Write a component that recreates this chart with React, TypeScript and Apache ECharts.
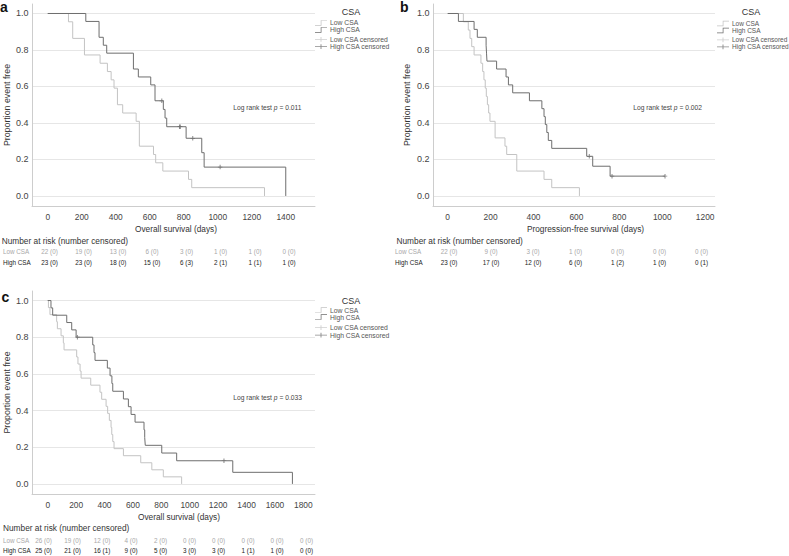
import React, { useEffect, useRef } from "react";
import * as echarts from "echarts";

// ---------- Panel a: overall survival ----------
const aLowCurve = [[0,1],[122,0.9545],[147,0.8636],[216,0.7727],[308,0.7273],[351,0.6818],[373,0.6364],[390,0.5909],[410,0.5],[441,0.4545],[520,0.4091],[539,0.2727],[622,0.2273],[635,0.1818],[677,0.1364],[828,0.0909],[847,0.0455],[1275,0]];
const aHighCurve = [[0,1],[224,0.9565],[302,0.8696],[327,0.8261],[347,0.7826],[504,0.6957],[533,0.6522],[606,0.6087],[631,0.5217],[680,0.4743],[690,0.4269],[700,0.3794],[814,0.3162],[906,0.2371],[920,0.1581],[1400,0]];
const aHighCensor = [[671,0.5217],[775,0.3794],[780,0.3794],[853,0.3162],[1014,0.1581]];
const aTicks = [0,200,400,600,800,1000,1200,1400];
const aLowAtRisk = [22,19,13,6,3,1,1,0];
const aLowCens = [0,0,0,0,0,0,0,0];
const aHighAtRisk = [23,23,18,15,6,2,1,1];
const aHighCens = [0,0,0,0,3,1,1,0];
const aPText = "0.011";

// ---------- Panel b: progression-free survival ----------
const bLowCurve = [[0,1],[73,0.9545],[96,0.9091],[104,0.8636],[112,0.8182],[123,0.7727],[155,0.7273],[163,0.6818],[169,0.6364],[175,0.5909],[180,0.5455],[185,0.5],[191,0.4545],[197,0.4091],[221,0.3182],[267,0.2727],[275,0.2273],[322,0.1364],[449,0.0909],[485,0.0455],[614,0]];
const bHighCurve = [[0,1],[50,0.9565],[123,0.913],[138,0.8696],[179,0.8261],[181,0.7826],[183,0.7391],[228,0.6957],[272,0.6522],[283,0.6087],[303,0.5652],[381,0.5217],[439,0.4783],[449,0.4348],[455,0.3913],[462,0.3478],[469,0.3043],[485,0.2609],[648,0.2174],[676,0.163],[757,0.1087],[1013,0.1087]];
const bHighCensor = [[660,0.2174],[766,0.1087],[1013,0.1087]];
const bTicks = [0,200,400,600,800,1000,1200];
const bLowAtRisk = [22,9,3,1,0,0,0];
const bLowCens = [0,0,0,0,0,0,0];
const bHighAtRisk = [23,17,12,6,1,1,0];
const bHighCens = [0,0,0,0,2,0,1];
const bPText = "0.002";

// ---------- Panel c: overall survival ----------
const cLowCurve = [[0,1],[5,0.9615],[16,0.9231],[63,0.8846],[68,0.8462],[94,0.8077],[110,0.7692],[115,0.7308],[204,0.6923],[213,0.6538],[228,0.6154],[235,0.5769],[303,0.5385],[368,0.5],[380,0.4615],[411,0.4231],[422,0.3846],[434,0.3462],[446,0.3077],[451,0.2692],[458,0.2308],[467,0.1923],[533,0.1538],[655,0.1154],[733,0.0769],[814,0.0385],[943,0]];
const cHighCurve = [[0,1],[23,0.96],[35,0.92],[134,0.88],[169,0.84],[200,0.8],[317,0.7579],[326,0.7158],[333,0.6737],[420,0.6316],[439,0.5895],[452,0.5474],[458,0.5053],[533,0.4632],[568,0.4211],[587,0.3789],[615,0.3368],[678,0.2947],[683,0.2526],[687,0.2105],[803,0.1684],[908,0.1263],[1303,0.0632],[1723,0]];
const cHighCensor = [[209,0.8],[1241,0.1263]];
const cTicks = [0,200,400,600,800,1000,1200,1400,1600,1800];
const cLowAtRisk = [26,19,12,4,2,0,0,0,0,0];
const cLowCens = [0,0,0,0,0,0,0,0,0,0];
const cHighAtRisk = [25,21,16,9,5,3,3,1,1,0];
const cHighCens = [0,0,1,0,0,0,0,1,0,0];
const cPText = "0.033";

const yTicks = [0, 0.2, 0.4, 0.6, 0.8, 1.0];
const groupNames = ["Low CSA", "High CSA"];
const censorNames = ["Low CSA censored", "High CSA censored"];

const FONT = "'Liberation Sans', Arial, Helvetica, sans-serif";
const LOW_COLOR = "#c3c3c3";
const HIGH_COLOR = "#6e6e6e";
const LOW_TEXT = "#a8a8a8";
const HIGH_TEXT = "#222222";
const STEP_ICON = "path://M0,5.2H6.2V0H13V0.8H7V6H0Z";
const PLUS_ICON = "path://M0,2.6H13V3.4H0Z M6,0.4H7V5.6H6Z";
const CENSOR_SYMBOL = "path://M4,0H6V10H4Z M0.5,4.2H9.5V5.8H0.5Z";

type Panel = {
  grid: { left: number; top: number; width: number; height: number };
  xMin: number; xMax: number; ticks: number[];
  xName: string; xNameShift: number; xNameGap: number; yNameGap: number;
  low: number[][]; high: number[][]; highCensor: number[][];
  table: { top: number; height: number; xMin: number; xMax: number; labelMargin: number };
  lowAtRisk: number[]; lowCens: number[]; highAtRisk: number[]; highCens: number[];
};

const panels: Panel[] = [
  {
    grid: { left: 32, top: 4, width: 283, height: 202 },
    xMin: -92.4, xMax: 1572, ticks: aTicks,
    xName: "Overall survival (days)", xNameShift: 2.5, xNameGap: 18.5, yNameGap: 20.5,
    low: aLowCurve, high: aHighCurve, highCensor: aHighCensor,
    table: { top: 246, height: 22, xMin: -89.9, xMax: 1550.7, labelMargin: 31 },
    lowAtRisk: aLowAtRisk, lowCens: aLowCens, highAtRisk: aHighAtRisk, highCens: aHighCens,
  },
  {
    grid: { left: 433, top: 4, width: 282, height: 202 },
    xMin: -68.5, xMax: 1246, ticks: bTicks,
    xName: "Progression-free survival (days)", xNameShift: 11.5, xNameGap: 18.5, yNameGap: 21.5,
    low: bLowCurve, high: bHighCurve, highCensor: bHighCensor,
    table: { top: 246, height: 22, xMin: -76, xMax: 1263, labelMargin: 38 },
    lowAtRisk: bLowAtRisk, lowCens: bLowCens, highAtRisk: bHighAtRisk, highCens: bHighCens,
  },
  {
    grid: { left: 32, top: 291, width: 283, height: 203 },
    xMin: -110.6, xMax: 1882, ticks: cTicks,
    xName: "Overall survival (days)", xNameShift: 5.5, xNameGap: 19, yNameGap: 20.5,
    low: cLowCurve, high: cHighCurve, highCensor: cHighCensor,
    table: { top: 535.5, height: 20, xMin: -75.2, xMax: 1859.8, labelMargin: 29.5 },
    lowAtRisk: cLowAtRisk, lowCens: cLowCens, highAtRisk: cHighAtRisk, highCens: cHighCens,
  },
];

function buildOption() {
  const grids: any[] = [];
  const xAxes: any[] = [];
  const yAxes: any[] = [];
  const series: any[] = [];

  panels.forEach((p) => {
    grids.push({ ...p.grid, containLabel: false });
  });
  panels.forEach((p) => {
    grids.push({ left: p.grid.left, width: p.grid.width, top: p.table.top, height: p.table.height, containLabel: false });
  });

  panels.forEach((p, i) => {
    xAxes.push({
      type: "value", gridIndex: i, min: p.xMin, max: p.xMax,
      axisLine: { show: true, onZero: false, lineStyle: { color: "#cdcdcd", width: 1 } },
      axisTick: { show: false, customValues: p.ticks },
      splitLine: { show: false },
      axisLabel: { customValues: p.ticks, formatter: (v: number) => String(v), color: "#444", fontSize: 8.4, margin: 6.5, fontFamily: FONT },
      name: p.xName, nameLocation: "middle", nameGap: p.xNameGap,
      nameTextStyle: { color: "#333", fontSize: 8.3, fontFamily: FONT, padding: [0, 0, 0, p.xNameShift * 2] },
    });
    yAxes.push({
      type: "value", gridIndex: i, min: -0.055, max: 1.052,
      axisLine: { show: true, onZero: false, lineStyle: { color: "#cdcdcd", width: 1 } },
      axisTick: { show: false, customValues: yTicks },
      axisLabel: { customValues: yTicks, formatter: (v: number) => v.toFixed(1), color: "#444", fontSize: 9, margin: 3.5, fontFamily: FONT },
      splitLine: { show: true, lineStyle: { color: "#e6e6e6", width: 1 } },
      name: "Proportion event free", nameLocation: "middle", nameGap: p.yNameGap, nameRotate: 90,
      nameTextStyle: { color: "#333", fontSize: 8.8, fontFamily: FONT },
    });
  });
  panels.forEach((p, i) => {
    xAxes.push({ type: "value", gridIndex: 3 + i, min: p.table.xMin, max: p.table.xMax, show: false });
    yAxes.push({
      type: "category", gridIndex: 3 + i, data: groupNames, inverse: true,
      axisLine: { show: false }, axisTick: { show: false }, splitLine: { show: false },
      axisLabel: {
        show: true, align: "left", margin: p.table.labelMargin, fontSize: 6.3, fontFamily: FONT,
        color: (v: string) => (v === "Low CSA" ? LOW_TEXT : HIGH_TEXT),
      },
    });
  });

  panels.forEach((p, i) => {
    series.push({
      type: "line", name: "Low CSA", xAxisIndex: i, yAxisIndex: i, data: p.low, step: "end",
      symbol: "none", showSymbol: false, silent: true,
      lineStyle: { color: LOW_COLOR, width: 1 }, itemStyle: { color: LOW_COLOR }, z: 2,
    });
    series.push({
      type: "line", name: "High CSA", xAxisIndex: i, yAxisIndex: i, data: p.high, step: "end",
      symbol: "none", showSymbol: false, silent: true,
      lineStyle: { color: HIGH_COLOR, width: 1 }, itemStyle: { color: HIGH_COLOR }, z: 3,
    });
    series.push({
      type: "scatter", name: "Low CSA censored", xAxisIndex: i, yAxisIndex: i, data: [],
      symbol: CENSOR_SYMBOL, symbolSize: 5, itemStyle: { color: LOW_COLOR }, silent: true,
    });
    series.push({
      type: "scatter", name: "High CSA censored", xAxisIndex: i, yAxisIndex: i, data: p.highCensor,
      symbol: CENSOR_SYMBOL, symbolSize: 4.5, itemStyle: { color: HIGH_COLOR }, silent: true, z: 4,
    });
    const rows = [
      { idx: 0, atRisk: p.lowAtRisk, cens: p.lowCens, color: LOW_TEXT },
      { idx: 1, atRisk: p.highAtRisk, cens: p.highCens, color: HIGH_TEXT },
    ];
    rows.forEach((r) => {
      const texts = p.ticks.map((_, k) => `${r.atRisk[k]} (${r.cens[k]})`);
      series.push({
        type: "custom", xAxisIndex: 3 + i, yAxisIndex: 3 + i, silent: true,
        data: p.ticks.map((t) => [t, r.idx]),
        encode: { x: 0, y: 1 },
        renderItem: (params: any, api: any) => {
          const pt = api.coord([api.value(0), api.value(1)]);
          return {
            type: "text", x: Math.round(pt[0] * 2) / 2, y: pt[1],
            style: {
              text: texts[params.dataIndex], fill: r.color,
              font: `6.3px ${FONT}`, align: "center", verticalAlign: "middle",
              textAlign: "center", textVerticalAlign: "middle",
            },
          };
        },
      });
    });
  });

  const legendBase = {
    orient: "vertical", padding: 0, itemWidth: 12, itemHeight: 6, itemGap: 0,
    selectedMode: false,
  };
  const legendPos = [
    { left: 315, top1: 19.4, lh1: 6.6, top2: 35.6, lh2: 7.4, fs: 6.8 },
    { left: 717, top1: 20, lh1: 6.3, top2: 36.3, lh2: 6.9, fs: 6.5 },
    { left: 315, top1: 306.6, lh1: 6.7, top2: 324, lh2: 7.4, fs: 6.8 },
  ];
  const legends: any[] = [];
  legendPos.forEach((lp) => {
    const ts = { fontSize: lp.fs, color: "#555", fontFamily: FONT, padding: [0, 0, 0, -2] };
    legends.push({ ...legendBase, left: lp.left, top: lp.top1,
      textStyle: { ...ts, lineHeight: lp.lh1 },
      data: groupNames.map((n) => ({ name: n, icon: STEP_ICON })) });
    legends.push({ ...legendBase, left: lp.left, top: lp.top2,
      textStyle: { ...ts, lineHeight: lp.lh2 },
      data: censorNames.map((n) => ({ name: n, icon: PLUS_ICON })) });
  });

  const txt = (x: number, y: number, text: string, font: string, fill: string, align = "left", extra: any = {}) => ({
    type: "text", x, y, silent: true,
    style: { text, font, fill, textAlign: align, align, textVerticalAlign: "middle", verticalAlign: "middle", ...extra },
  });
  const graphic: any[] = [
    txt(0, 6.9, "a", `bold 14px ${FONT}`, "#111"),
    txt(400, 6.9, "b", `bold 14px ${FONT}`, "#111"),
    txt(1.5, 296.9, "c", `bold 14px ${FONT}`, "#111"),
    txt(351, 12, "CSA", `9px ${FONT}`, "#333", "center"),
    txt(751, 12, "CSA", `9px ${FONT}`, "#333", "center"),
    txt(351, 300.5, "CSA", `9px ${FONT}`, "#333", "center"),
    txt(1.7, 240.7, "Number at risk (number censored)", `8.3px ${FONT}`, "#333"),
    txt(396.5, 240.7, "Number at risk (number censored)", `8.3px ${FONT}`, "#333"),
    txt(3, 527.7, "Number at risk (number censored)", `8.3px ${FONT}`, "#333"),
  ];
  const pvals = [
    { x: 233.3, y: 107.3, p: aPText },
    { x: 633.3, y: 107.3, p: bPText },
    { x: 233.3, y: 397.3, p: cPText },
  ];
  pvals.forEach((pv) => {
    graphic.push(txt(pv.x, pv.y, `Log rank test {i|p} = ${pv.p}`, `6.7px ${FONT}`, "#444", "left", {
      rich: { i: { fontStyle: "italic", fontSize: 6.7, fontFamily: FONT, fill: "#444" } },
    }));
  });

  return {
    animation: false,
    backgroundColor: "#ffffff",
    textStyle: { fontFamily: FONT },
    grid: grids,
    xAxis: xAxes,
    yAxis: yAxes,
    legend: legends,
    graphic,
    series,
  };
}

export default function App() {
  const ref = useRef<HTMLDivElement>(null);
  useEffect(() => {
    document.body.style.margin = "0";
    if (!ref.current) return;
    const chart = echarts.init(ref.current, undefined, { renderer: "svg" });
    chart.setOption(buildOption() as any);
    return () => chart.dispose();
  }, []);
  return <div ref={ref} style={{ width: 789, height: 556 }} />;
}
